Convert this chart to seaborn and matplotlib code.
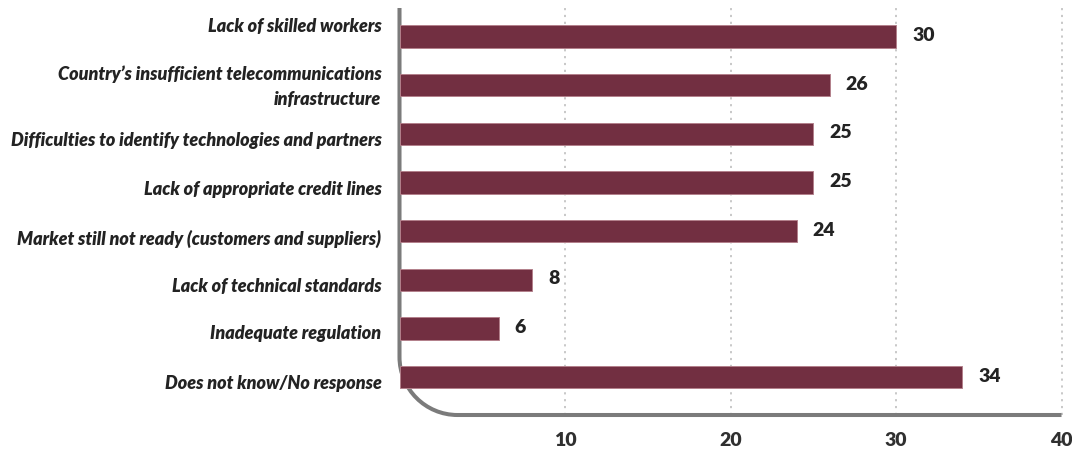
import matplotlib
matplotlib.use("Agg")
import matplotlib.pyplot as plt
import matplotlib.transforms as mtransforms
from matplotlib.path import Path
from matplotlib.patches import PathPatch
import seaborn as sns
import pandas as pd

# Obstacles reported, number of responses
categories = [
    "Lack of skilled workers",
    "Country\u2019s insufficient telecommunications\ninfrastructure",
    "Difficulties to identify technologies and partners",
    "Lack of appropriate credit lines",
    "Market still not ready (customers and suppliers)",
    "Lack of technical standards",
    "Inadequate regulation",
    "Does not know/No response",
]
responses = [30, 26, 25, 25, 24, 8, 6, 34]
x_ticks = [10, 20, 30, 40]

BAR_COLOR = "#722f41"
FRAME_COLOR = "#7b7b7b"
TEXT_COLOR = "#232323"

sns.set_theme(style="white")
plt.rcParams["font.family"] = ["Lato", "DejaVu Sans"]

W, H, DPI = 1072, 450, 100
fig = plt.figure(figsize=(W / DPI, H / DPI), dpi=DPI)
left_px, right_px, top_px, bottom_px = 399.5, 1061.5, 8, 415
ax = fig.add_axes([left_px / W, 1 - bottom_px / H,
                   (right_px - left_px) / W, (bottom_px - top_px) / H])

df = pd.DataFrame({"category": categories, "responses": responses})
sns.barplot(data=df, x="responses", y="category", orient="h", color=BAR_COLOR,
            width=0.46, saturation=1, edgecolor="#b3818c", linewidth=0.7,
            ax=ax, zorder=3)

ax.set_xlim(0, 40)
ax.set_ylim(7.78, -0.586)
ax.set_xlabel("")
ax.set_ylabel("")

# dotted vertical guides
ax.set_xticks(x_ticks)
ax.grid(False)
for xv in x_ticks:
    ax.axvline(xv, color="#c4c4c4", lw=1.3, ls=(0, (1.2, 2.6)), zorder=1,
               clip_on=False)

for s in ax.spines.values():
    s.set_visible(False)

ax.tick_params(axis="both", length=0)
ax.tick_params(axis="x", pad=12)
ax.tick_params(axis="y", pad=13)
for lab in ax.get_xticklabels():
    lab.set_fontsize(14)
    lab.set_fontweight("heavy")
    lab.set_color("#303030")

# category labels, nudged vertically (pixels, positive = down)
nudge_px = [-12, -4, 5, 6, 6, 5, 4, 5]
for lab, dy in zip(ax.get_yticklabels(), nudge_px):
    lab.set_fontsize(13)
    lab.set_fontweight("heavy")
    lab.set_fontstyle("italic")
    lab.set_color(TEXT_COLOR)
    lab.set_linespacing(1.55)
    lab.set_transform(lab.get_transform() +
                      mtransforms.Affine2D().translate(0, -dy))

# value labels
for i, v in enumerate(responses):
    ax.annotate(str(v), xy=(v, i), xytext=(16, 1), textcoords="offset pixels",
                ha="left", va="center", fontsize=14, fontweight="heavy",
                color=TEXT_COLOR, zorder=4)

# frame: left and bottom axis joined by a rounded corner
R = 58
rx = R / (right_px - left_px)
ry = R / (bottom_px - top_px)
k = 0.5523
verts = [(0, 1), (0, ry), (0, ry * (1 - k)), (rx * (1 - k), 0), (rx, 0), (1, 0)]
codes = [Path.MOVETO, Path.LINETO, Path.CURVE4, Path.CURVE4, Path.CURVE4,
         Path.LINETO]
frame = PathPatch(Path(verts, codes), transform=ax.transAxes, fill=False,
                  edgecolor=FRAME_COLOR, lw=2.9, capstyle="butt",
                  joinstyle="round", clip_on=False, zorder=2)
ax.add_patch(frame)

fig.savefig("out.png", dpi=DPI)
